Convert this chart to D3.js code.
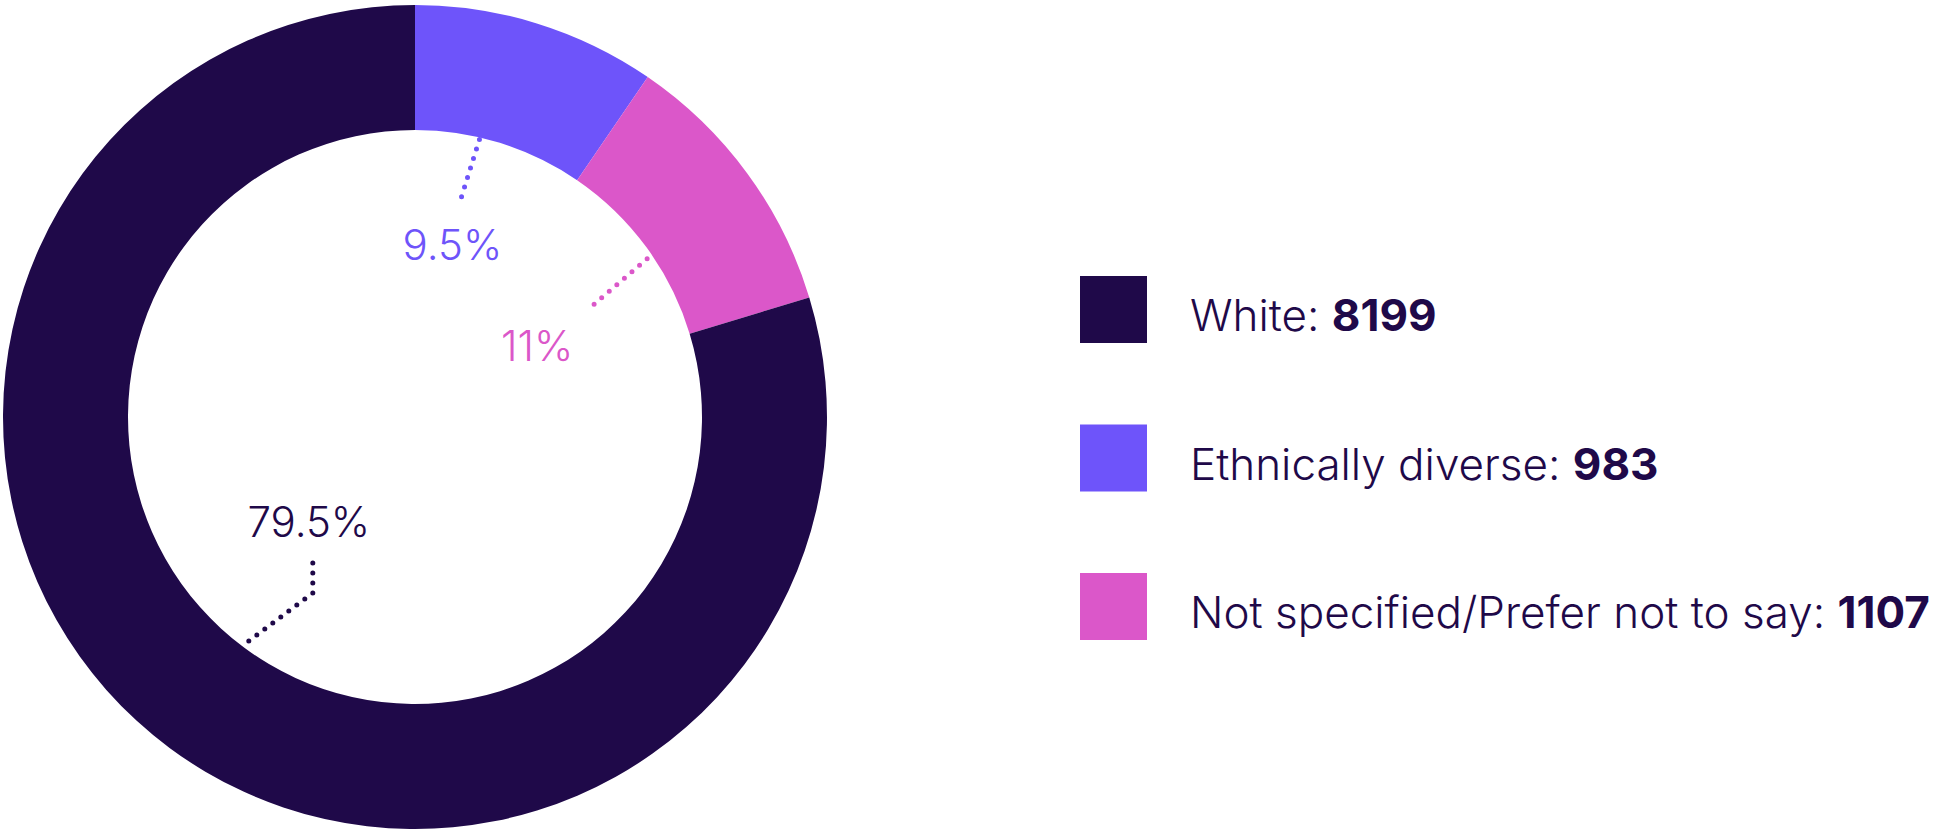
<!DOCTYPE html>
<html>
<head>
<meta charset="utf-8">
<script src="https://cdn.jsdelivr.net/npm/d3@7"></script>
<style>
  body { margin: 0; background: #fff; }
  svg { display: block; font-family: Inter, "Noto Sans", sans-serif; }
</style>
</head>
<body>
<div id="chart"></div>
<script>
// data, clockwise order from 12 o'clock
var categories = ["Ethnically diverse", "Not specified/Prefer not to say", "White"]
var counts = [983, 1107, 8199]
var pctLabels = ["9.5%", "11%", "79.5%"]
var colors = ["#6e54fa", "#db57c9", "#1f0949"]
// legend is listed in a different order
var legendOrder = ["White", "Ethnically diverse", "Not specified/Prefer not to say"]

var W = 1941, H = 830
var cx = 415, cy = 417, rOuter = 412, rInner = 287
var ink = "#1f0949"

var svg = d3.select("#chart").append("svg").attr("width", W).attr("height", H)
var g = svg.append("g").attr("transform", "translate(" + cx + "," + cy + ")")

var pie = d3.pie().sort(null).value(function(d) { return d })
var arc = d3.arc().innerRadius(rInner).outerRadius(rOuter)
var arcs = pie(counts)

g.selectAll("path.slice").data(arcs).enter().append("path")
  .attr("class", "slice")
  .attr("d", arc)
  .attr("fill", function(d, i) { return colors[i] })

function pt(a, r) { return [Math.sin(a) * r, -Math.cos(a) * r] }

// leader lines + labels (hand tuned per slice)
// f: where on the slice the line starts, (dx,dy): first leg, up: second vertical leg
var leader = [
  { f: 0.38, r0: 285, dx: -20, dy: 64, up: 0, lx: -7, ly: 57 },
  { f: 0.55, r0: 281, dx: -58, dy: 50, up: 0, lx: -52, ly: 52 },
  { f: 0.5, r0: 279, dx: 64, dy: -48, up: 40, lx: -4, ly: -16 }
]

arcs.forEach(function(d, i) {
  var L = leader[i]
  var m = d.startAngle + (d.endAngle - d.startAngle) * L.f
  var p0 = pt(m, L.r0), p1 = [p0[0] + L.dx, p0[1] + L.dy]
  var pts = [p0, p1]
  if (L.up) pts.push([p1[0], p1[1] - L.up])
  var end = pts[pts.length - 1]
  g.append("path")
    .attr("d", d3.line()(pts))
    .attr("fill", "none")
    .attr("stroke", colors[i])
    .attr("stroke-width", 5)
    .attr("stroke-linecap", "round")
    .attr("stroke-dasharray", "0 10")
  g.append("text")
    .attr("x", end[0] + L.lx)
    .attr("y", end[1] + L.ly)
    .attr("text-anchor", "middle")
    .attr("font-size", 42)
    .attr("font-weight", 300)
    .attr("fill", colors[i])
    .text(pctLabels[i])
})

// legend
var y = d3.scalePoint().domain(legendOrder).range([310, 607])
var leg = svg.append("g").selectAll("g").data(legendOrder).enter().append("g")
  .attr("transform", function(d) { return "translate(1080," + y(d) + ")" })

leg.append("rect")
  .attr("x", 0).attr("y", -34)
  .attr("width", 67).attr("height", 67)
  .attr("fill", function(d) { return colors[categories.indexOf(d)] })

var t = leg.append("text")
  .attr("x", 110).attr("y", 21)
  .attr("font-size", 44)
  .attr("fill", ink)
t.append("tspan").attr("font-weight", 300).text(function(d) { return d + ": " })
t.append("tspan").attr("font-weight", 700).text(function(d) { return counts[categories.indexOf(d)] })
</script>
</body>
</html>
